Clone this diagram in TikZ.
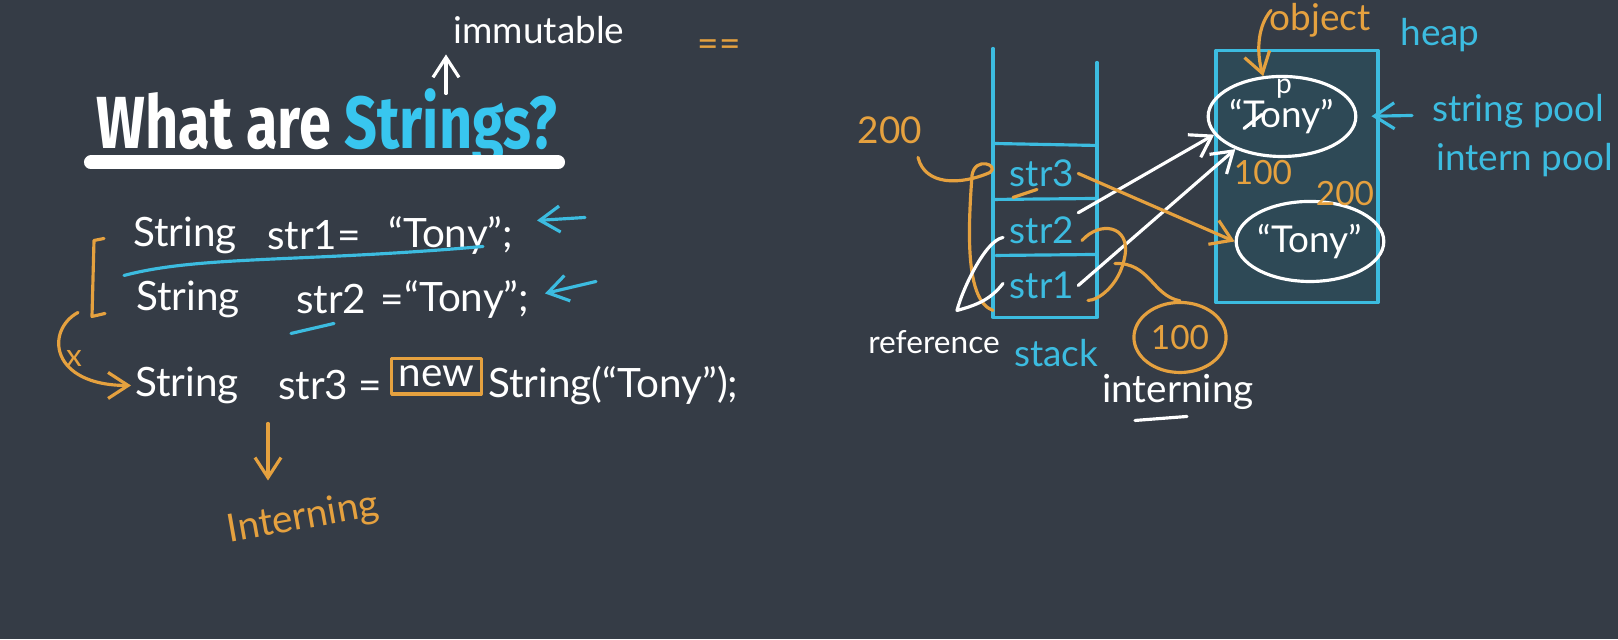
\documentclass[tikz,border=0pt]{standalone}
\usepackage{fontspec}
\setmainfont{Lato}
\newfontfamily\titlefont{Fira Sans}
\usetikzlibrary{arrows.meta,positioning,shapes.geometric}
\definecolor{board}{HTML}{353C46}
\definecolor{chalkblue}{HTML}{3CBCE0}
\definecolor{titleblue}{HTML}{38C6EF}
\definecolor{chalkorange}{HTML}{E5A13F}
\definecolor{heapfill}{HTML}{2E4956}

\begin{document}
\begin{tikzpicture}[x=0.01cm, y=-0.01cm, line cap=round, line join=round,
    every node/.style={inner sep=1pt},
    chalk/.style={text=white, font=\fontsize{11.5}{14}\selectfont},
    bluechalk/.style={text=chalkblue, font=\fontsize{10.5}{13}\selectfont},
    orangechalk/.style={text=chalkorange, font=\fontsize{10.5}{13}\selectfont},
    wline/.style={draw=white, line width=0.9pt},
    bline/.style={draw=chalkblue, line width=0.9pt},
    oline/.style={draw=chalkorange, line width=0.9pt},
    tip/.style={-{Straight Barb[length=2mm, width=2.6mm]}},
    pool/.style={draw=white, line width=0.9pt, ellipse, inner sep=0pt, minimum width=1.22cm, minimum height=0.8cm, text=white, font=\fontsize{10.5}{13}\selectfont}]
  \fill[board] (0,0) rectangle (1618,639);

  \node[anchor=base west, inner sep=0pt, text=white, font=\titlefont\bfseries\fontsize{21}{24}\selectfont] (title) at (96,148) {\scalebox{0.78}[1]{What are \textcolor{titleblue}{Strings?}}};
  \draw[white, line width=4pt] (91,162) -- (558,162);

  \node[chalk, font=\fontsize{10.5}{12}\selectfont] (immut) at (539,30) {immutable};
  \coordinate (immfoot) at (446,93);
  \coordinate (immtop) at (446,54);
  \draw[wline, tip] (immfoot) -- (immtop);
  \node[orangechalk] (eqeq) at (719,48) {==};

  \node[chalk, anchor=west] (l1type) at (129,235) {String};
  \node[chalk, anchor=west] (l1name) at (263,235) {str1=};
  \node[chalk, anchor=west] (l1val) at (384,235) {“Tony”;};
  \node[chalk, anchor=west] (l2type) at (132,299) {String};
  \node[chalk, anchor=west] (l2name) at (292,299) {str2\hspace{0.35em}=};
  \node[chalk, anchor=west] (l2val) at (400,299) {“Tony”;};
  \node[chalk, anchor=west] (l3type) at (131,385) {String};
  \node[chalk, anchor=west] (l3name) at (274,385) {str3 =};
  \node[chalk, draw=chalkorange, line width=0.9pt, inner sep=2pt, anchor=west] (l3new) at (390,376) {new};
  \node[chalk, anchor=west] (l3val) at (484,385) {String(“Tony”);};

  \draw[bline] (124,275) .. controls (200,255) and (300,262) .. (483,246);
  \draw[bline] (291,333) -- (334,323);
  \coordinate (mark1) at (585,217);
  \coordinate (mark1tip) at (537,220);
  \draw[bline, tip] (mark1) -- (mark1tip);
  \coordinate (mark2) at (596,281);
  \coordinate (mark2tip) at (545,293);
  \draw[bline, tip] (mark2) -- (mark2tip);

  \draw[oline] (104,238) -- (94,240) -- (92,316) -- (105,313);
  \coordinate (swapfrom) at (78,312);
  \draw[oline, tip] (swapfrom) .. controls (45,330) and (50,385) .. (l3type.west);
  \node[orangechalk, font=\fontsize{9}{10}\selectfont] (swapx) at (74,358) {x};

  \node[orangechalk, rotate=10, font=\fontsize{11}{13}\selectfont] (intern1) at (303,518) {Interning};
  \coordinate (internfrom) at (268,423);
  \draw[oline, tip] (internfrom) -- (268,480);

  \draw[bline] (993,48) -- (993,317) -- (1097,317) -- (1097,62);
  \draw[bline] (993,143) -- (1097,145);
  \draw[bline] (993,199) -- (1097,198);
  \draw[bline] (996,255) -- (1097,254);
  \node[bluechalk] (str3) at (1042,173) {str3};
  \node[bluechalk] (str2) at (1042,230) {str2};
  \node[bluechalk] (str1) at (1042,285) {str1};
  \draw[oline] (1013,197) -- (1037,189);
  \node[bluechalk, anchor=west] (stack) at (1010,353) {stack};
  \node[chalk, font=\fontsize{9}{11}\selectfont, anchor=east] (refer) at (1004,342) {reference};
  \node[orangechalk] (addr200) at (890,130) {200};

  \node[draw=chalkblue, fill=heapfill, line width=0.9pt, minimum width=1.62cm, minimum height=2.52cm] (heap) at (1297,176) {};
  \node[bluechalk] (heaplbl) at (1440,35) {heap};
  \node[pool] (pool1) at (1282,116) {“Tony”};
  \node[text=white, font=\fontsize{8}{9}\selectfont] (pmark) at (1284,88) {p};
  \draw[wline] (1244,128) -- (1262,114);
  \node[pool] (pool2) at (1310,241) {“Tony”};
  \node[orangechalk, font=\fontsize{9.5}{12}\selectfont] (addr100) at (1263,172) {100};
  \node[orangechalk, font=\fontsize{9.5}{12}\selectfont] (addr200b) at (1345,193) {200};
  \node[orangechalk] (objlbl) at (1320,20) {object};
  \coordinate (objfrom) at (1271,10);
  \draw[oline, tip] (objfrom) .. controls (1258,25) and (1256,50) .. (pool1.115);
  \node[bluechalk, anchor=west] (spool) at (1428,111) {string pool};
  \node[bluechalk, anchor=west] (ipool) at (1432,160) {intern pool};
  \coordinate (poolnote) at (1412,115);
  \draw[bline, tip, shorten >=4pt] (poolnote) -- (pool1.east);

  \draw[wline, tip] (str2.north east) -- (pool1.195);
  \draw[wline, tip] (str1.east) -- (pool1.215);
  \draw[oline, tip] (str3.east) -- (pool2.west);

  \draw[oline] (918,157) .. controls (925,185) and (960,185) .. (990,172) .. controls (1000,165) and (975,155) .. (972,175) .. controls (968,230) and (965,300) .. (993,310);
  \draw[wline] (1003,237) .. controls (985,240) and (962,290) .. (957,310) .. controls (975,305) and (990,300) .. (1003,283);
  \draw[oline] (1082,240) .. controls (1100,220) and (1130,225) .. (1125,255) .. controls (1120,285) and (1098,300) .. (1088,300);

  \node[draw=chalkorange, line width=0.9pt, ellipse, minimum width=0.9cm, minimum height=0.7cm, orangechalk, font=\fontsize{9.5}{12}\selectfont] (addr100b) at (1180,337) {100};
  \coordinate (loopstart) at (1115,263);
  \draw[oline] (loopstart) .. controls (1150,262) and (1152,295) .. (addr100b.north);
  \node[chalk, font=\fontsize{11}{13}\selectfont] (interning) at (1178,391) {interning};
  \draw[wline] (1135,420) -- (1187,416);
\end{tikzpicture}
\end{document}
